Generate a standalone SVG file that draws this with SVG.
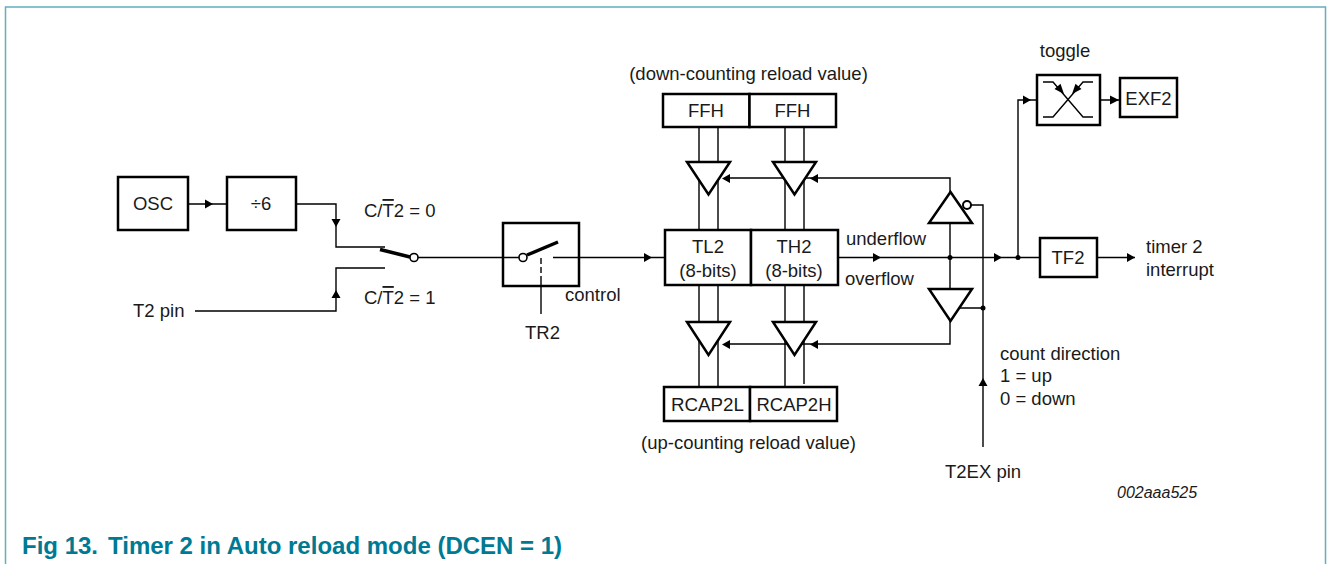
<svg xmlns="http://www.w3.org/2000/svg" width="1327" height="564" viewBox="0 0 1327 564">
<style>
text{font-family:"Liberation Sans",Arial,sans-serif;font-size:18.500px;fill:#1a1a1a}
.m{text-anchor:middle}
.b{fill:#fff;stroke:#000;stroke-width:2.500}
.n{fill:none;stroke:#000;stroke-width:2.500}
.t{fill:#fff;stroke:#000;stroke-width:2.500;stroke-linejoin:miter}
.l{fill:none;stroke:#000;stroke-width:1.400}
.h{fill:none;stroke:#000;stroke-width:3.500}
.c{fill:#fff;stroke:#000;stroke-width:1.600}
.d{fill:#000}
.cap{font-weight:bold;fill:#007a93;font-size:24px}
</style>
<rect width="1327" height="564" fill="#fff"/>
<path id="frame" d="M5.500 564V7H1325.500V564" fill="none" stroke="#62afc0" stroke-width="1.500"/>
<g id="connectors">
<path class="l" d="M188 204H227M296 204H336V247H385M385 268H336V311H195"/>
<path class="l" d="M418 257.500H519M553 257.500H665"/>
<path class="l" d="M541 282V314"/>
<path class="l" d="M541 258V282" stroke-dasharray="6 3"/>
<path class="l" d="M699 127V230M718 127V230M785 127V230M804 127V230M699 285V387M718 285V387M785 285V387M804 285V384"/>
<path class="l" d="M950 192V178H730M950 223V289M950 321V344H730M838 257.500H1040M1097 257.500H1135M1018 257.500V100H1037M1100 100H1120"/>
<path class="l" d="M971 205H983V447M955 308H983"/>
<path class="d" d="M205 199.500L213 204L205 208.500ZM331.500 219L340.500 219L336 227ZM331.500 298L340.500 298L336 290ZM644 253L652 257.500L644 262ZM873 253L881 257.500L873 262ZM994 253L1002 257.500L994 262ZM1127 253L1135 257.500L1127 262ZM1023 95.500L1031 100L1023 104.500ZM1110 95.500L1119 100L1110 104.500ZM730 174L722 178.500L730 183ZM818 174L810 178.500L818 183ZM730 340L722 344.500L730 349ZM818 340L810 344.500L818 349ZM978.500 386H987.500L983 378Z"/>
<circle class="d" cx="950" cy="257.500" r="2.500"/>
<circle class="d" cx="1018" cy="257.500" r="2.500"/>
<circle class="d" cx="983" cy="308" r="2.500"/>
</g>
<g id="osc"><rect class="b" x="118" y="177" width="70" height="53"/><text class="m" x="153" y="210">OSC</text></g>
<g id="div6"><rect class="b" x="227" y="177" width="69" height="53"/><text class="m" x="261" y="210">÷6</text></g>
<g id="t2pin"><text x="133" y="317">T2 pin</text></g>
<g id="sel0"><text x="364" y="217">C/<tspan text-decoration="overline">T</tspan>2 = 0</text></g>
<g id="sel1"><text x="364" y="304">C/<tspan text-decoration="overline">T</tspan>2 = 1</text></g>
<g id="switch1"><path class="h" d="M380 249.500L410 257"/><circle class="c" cx="414" cy="257.500" r="4"/></g>
<g id="tr2gate"><rect class="n" x="503" y="223" width="76" height="63"/><path class="h" d="M527 255L558 242"/><circle class="c" cx="523" cy="257.500" r="4"/><text x="565" y="301">control</text><text x="525" y="339">TR2</text></g>
<g id="ffh-l"><rect class="b" x="663" y="94" width="86.500" height="33"/><text class="m" x="706" y="117">FFH</text></g>
<g id="ffh-h"><rect class="b" x="749.500" y="94" width="86.500" height="33"/><text class="m" x="792.500" y="117">FFH</text></g>
<g id="tl2"><rect class="b" x="665" y="230" width="86" height="55"/><text class="m" x="708" y="253">TL2</text><text class="m" x="708" y="277">(8-bits)</text></g>
<g id="th2"><rect class="b" x="751" y="230" width="87" height="55"/><text class="m" x="794" y="253">TH2</text><text class="m" x="794" y="277">(8-bits)</text></g>
<g id="rcapl"><rect class="b" x="664" y="387" width="86" height="34"/><text class="m" x="707.500" y="411" textLength="73" lengthAdjust="spacingAndGlyphs">RCAP2L</text></g>
<g id="rcaph"><rect class="b" x="750" y="387" width="87" height="34"/><text class="m" x="794" y="411" textLength="75" lengthAdjust="spacingAndGlyphs">RCAP2H</text></g>
<g id="buf1"><path class="t" d="M687 162H730L708.500 194.500Z"/></g>
<g id="buf2"><path class="t" d="M773 162H816L794.500 194.500Z"/></g>
<g id="buf3"><path class="t" d="M687 322H730L708.500 355Z"/></g>
<g id="buf4"><path class="t" d="M773 322H816L794.500 355Z"/></g>
<g id="buf5"><path class="t" d="M929 223H972L950.500 192Z"/><circle class="c" cx="967" cy="205" r="4" style="stroke-width:2"/></g>
<g id="buf6"><path class="t" d="M929 289H972L950.500 321Z"/></g>
<g id="toggle"><rect class="b" x="1037" y="75" width="63" height="50"/><path class="l" d="M1043 82H1053L1083 117H1093M1093 82H1083L1053 117H1043"/><path class="d" d="M1064 94L1060.500 83.800L1054.500 89ZM1072 94L1075.500 83.800L1081.500 89Z"/></g>
<g id="exf2"><rect class="b" x="1120" y="78" width="57" height="39"/><text class="m" x="1148.500" y="105">EXF2</text></g>
<g id="tf2"><rect class="b" x="1040" y="238" width="57" height="39"/><text class="m" x="1068" y="264">TF2</text></g>
<g id="labels">
<text class="m" x="748.500" y="80">(down-counting reload value)</text>
<text class="m" x="748.500" y="449">(up-counting reload value)</text>
<text x="846" y="245">underflow</text>
<text x="845" y="285">overflow</text>
<text class="m" x="1065" y="57">toggle</text>
<text x="1146" y="253">timer 2</text>
<text x="1146" y="276">interrupt</text>
<text x="1000" y="360">count direction</text>
<text x="1000" y="382">1 = up</text>
<text x="1000" y="405">0 = down</text>
<text x="945" y="478">T2EX pin</text>
<text x="1117" y="498" style="font-style:italic;font-size:16px">002aaa525</text>
<text class="cap" x="22" y="554">Fig 13.</text>
<text class="cap" x="108" y="554">Timer 2 in Auto reload mode (DCEN = 1)</text>
</g>
</svg>
